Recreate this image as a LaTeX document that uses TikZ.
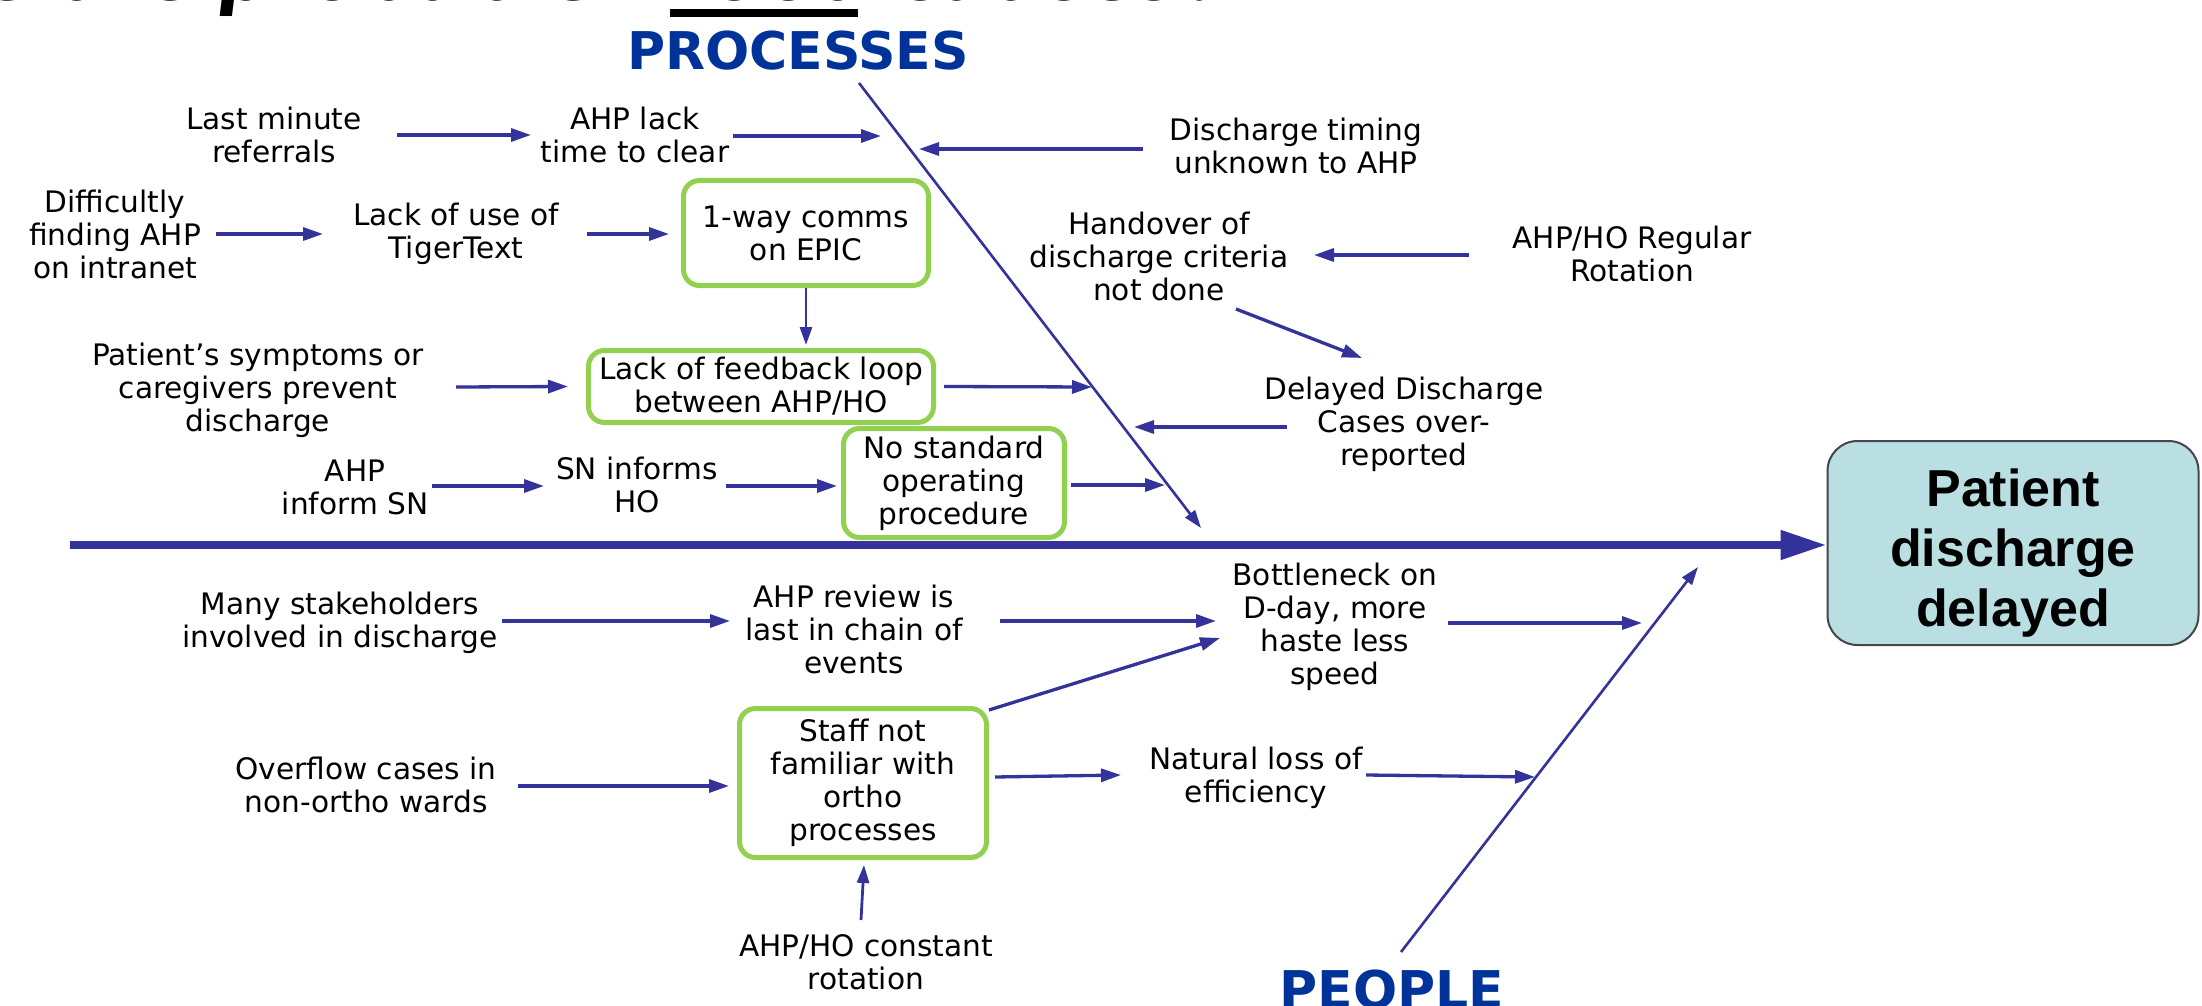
\documentclass[tikz,border=0pt]{standalone}
\usepackage{fontspec}
\setmainfont{DejaVu Sans}
\newfontfamily\libsans{Liberation Sans}
\newfontfamily\carlito{Carlito}
\usetikzlibrary{arrows.meta,calc}
\definecolor{arrblue}{RGB}{51,51,153}
\definecolor{headblue}{RGB}{0,51,153}
\definecolor{boxgreen}{RGB}{146,208,80}
\definecolor{efffill}{RGB}{185,223,226}
\definecolor{effdraw}{RGB}{70,70,70}
\newcommand{\fishtxt}{\fontsize{14.8pt}{16.5pt}\selectfont}
\begin{document}
\begin{tikzpicture}[x=0.5pt,y=-0.5pt,
  txt/.style={font=\fishtxt, align=center, inner sep=0pt, text=black},
  arr/.style={draw=arrblue, line width=1.65pt, -{Triangle[length=10pt,width=6.5pt]}},
  varr/.style={draw=arrblue, line width=1.4pt, -{Triangle[length=9pt,width=6pt]}},
  rib/.style={draw=arrblue, line width=1.3pt, -{Triangle[length=9pt,width=6pt]}},
  spine/.style={draw=arrblue, line width=4pt, -{Triangle[length=23pt,width=14pt]}},
  gbox/.style={draw=boxgreen, line width=2.5pt, rounded corners=8pt, fill=white, align=center, inner sep=0pt, font=\fishtxt},
  effbox/.style={draw=effdraw, fill=efffill, line width=1pt, rounded corners=15pt, minimum width=185.5pt, minimum height=102pt, inner sep=0pt},
  efftxt/.style={font=\libsans\bfseries\fontsize{26pt}{30pt}\selectfont, align=center, inner sep=0pt},
  cat/.style={font=\bfseries\fontsize{26pt}{30pt}\selectfont, text=headblue, inner sep=0pt},
  title/.style={font=\carlito\bfseries\itshape\fontsize{51pt}{51pt}\selectfont, inner sep=0pt, anchor=base}
]
\useasboundingbox (0,0) rectangle (2202,1006);
\clip (0,0) rectangle (2202,1006);
\fill[white] (0,0) rectangle (2202,1006);

% cut-off title
\node[title, anchor=base east] (t1) at (600,1) {e the probable};
\node[title] (t2) at (765,1) {root};
\node[title, anchor=base west] (t3) at (899,1) {causes?};
\fill[black] (670,9) rectangle (858,17);

% category labels
\node[cat] (proc) at (798,51) {PROCESSES};
\node[cat, anchor=north] (peop) at (1392,969) {PEOPLE};

% spine, ribs
\coordinate (sp) at (70,545);
\coordinate (prA) at (859,83);
\coordinate (prB) at (1201,528);
\coordinate (peA) at (1401,952);
\coordinate (peB) at (1698,567);
\node[effbox] (eff) at (2013,543) {};
\node[efftxt] (efft) at ($(eff)+(0,10)$) {Patient\\discharge\\delayed};
\draw[spine] (sp) -- (sp -| eff.west);
\draw[rib] (prA) -- (prB);
\draw[rib] (peA) -- (peB);

% rib contact points
\coordinate (p1) at (881,136);
\coordinate (p2) at (919,149);
\coordinate (p3) at (1092,387);
\coordinate (p4) at (1134,427);
\coordinate (p5) at (1165,485);
\coordinate (p6) at (1642,623);
\coordinate (p7) at (1535,777);

% processes side
\node[txt] (lm) at (274,135) {Last minute\\referrals};
\node[txt] (ahplack) at (635,135) {AHP lack\\time to clear};
\node[txt] (dtu) at (1296,146) {Discharge timing\\unknown to AHP};
\node[txt] (diff) at (115,234) {Difficultly\\finding AHP\\on intranet};
\node[txt] (lou) at (456,234) {Lack of use of\\TigerText};
\node[gbox, minimum width=122.5pt, minimum height=52.5pt] (epic) at (806,233) {1-way comms\\on EPIC};
\node[txt] (pat) at (258,390) {Patient’s symptoms or\\caregivers prevent\\discharge};
\node[gbox, minimum width=172.5pt, minimum height=36pt] (fb) at (761,386.5) {Lack of feedback loop\\between AHP/HO};
\node[txt] (hand) at (1159,256) {Handover of\\discharge criteria\\not done};
\node[txt] (rot) at (1632,254) {AHP/HO Regular\\Rotation};
\node[txt] (dd) at (1404,424) {Delayed Discharge\\Cases over-\\reported};
\node[txt] (ahpsn) at (355,487) {AHP\\inform SN};
\node[txt] (sn) at (637,485) {SN informs\\HO};
\node[gbox, minimum width=110.5pt, minimum height=54.5pt] (nostd) at (954,483) {No standard\\operating\\procedure};

\draw[arr] ($(lm)+(123,0)$) -- ($(ahplack)+(-104,0)$);
\draw[arr] ($(ahplack)+(98,1)$) -- (p1);
\draw[arr] ($(dtu)+(-153,3)$) -- (p2);
\draw[arr] ($(diff)+(101,0)$) -- ($(lou)+(-133,0)$);
\draw[arr] ($(lou)+(131,0)$) -- ($(epic.west)+(-12,1)$);
\draw[varr] (epic.south) -- ($(epic.south |- fb.north)+(0,-3)$);
\draw[arr] ($(pat)+(198,-3)$) -- ($(fb.west)+(-18,0)$);
\draw[arr] ($(fb.east)+(8,0)$) -- (p3);
\draw[arr] ($(dd)+(-117,3)$) -- (p4);
\draw[arr] ($(rot)+(-163,1)$) -- ($(hand)+(155,-1)$);
\draw[arr] ($(hand)+(77,53)$) -- ($(dd)+(-42,-66)$);
\draw[arr] ($(ahpsn)+(77,-1)$) -- ($(sn)+(-93,1)$);
\draw[arr] ($(sn)+(89,1)$) -- ($(nostd.west)+(-4,3)$);
\draw[arr] ($(nostd.east)+(4,2)$) -- (p5);

% people side
\node[txt] (many) at (340,623) {Many stakeholders\\involved in discharge};
\node[txt] (rev) at (854,629) {AHP review is\\last in chain of\\events};
\node[txt] (bn) at (1335,627) {Bottleneck on\\D-day, more\\haste less\\speed};
\node[gbox, minimum width=123.5pt, minimum height=74.5pt] (staff) at (863,783) {Staff not\\familiar with\\ortho\\processes};
\node[txt] (over) at (366,785) {Overflow cases in\\non-ortho wards};
\node[txt] (nat) at (1256,778) {Natural loss of\\efficiency};
\node[txt] (ahprot) at (866,962) {AHP/HO constant\\rotation};

\draw[arr] ($(many)+(162,-2)$) -- ($(rev)+(-124,-8)$);
\draw[arr] ($(rev)+(146,-8)$) -- ($(bn)+(-119,-6)$);
\draw[arr] ($(bn)+(113,-4)$) -- (p6);
\draw[arr] ($(staff.north east)+(0,4)$) -- ($(bn)+(-115,11)$);
\draw[arr] ($(over)+(152,1)$) -- ($(staff.west)+(-8,3)$);
\draw[arr] ($(staff.east)+(6,-6)$) -- ($(nat)+(-135,-3)$);
\draw[arr] ($(nat)+(110,-3)$) -- (p7);
\draw[varr] ($(ahprot)+(-5,-42)$) -- ($(staff.south)+(1,5)$);
\end{tikzpicture}
\end{document}
